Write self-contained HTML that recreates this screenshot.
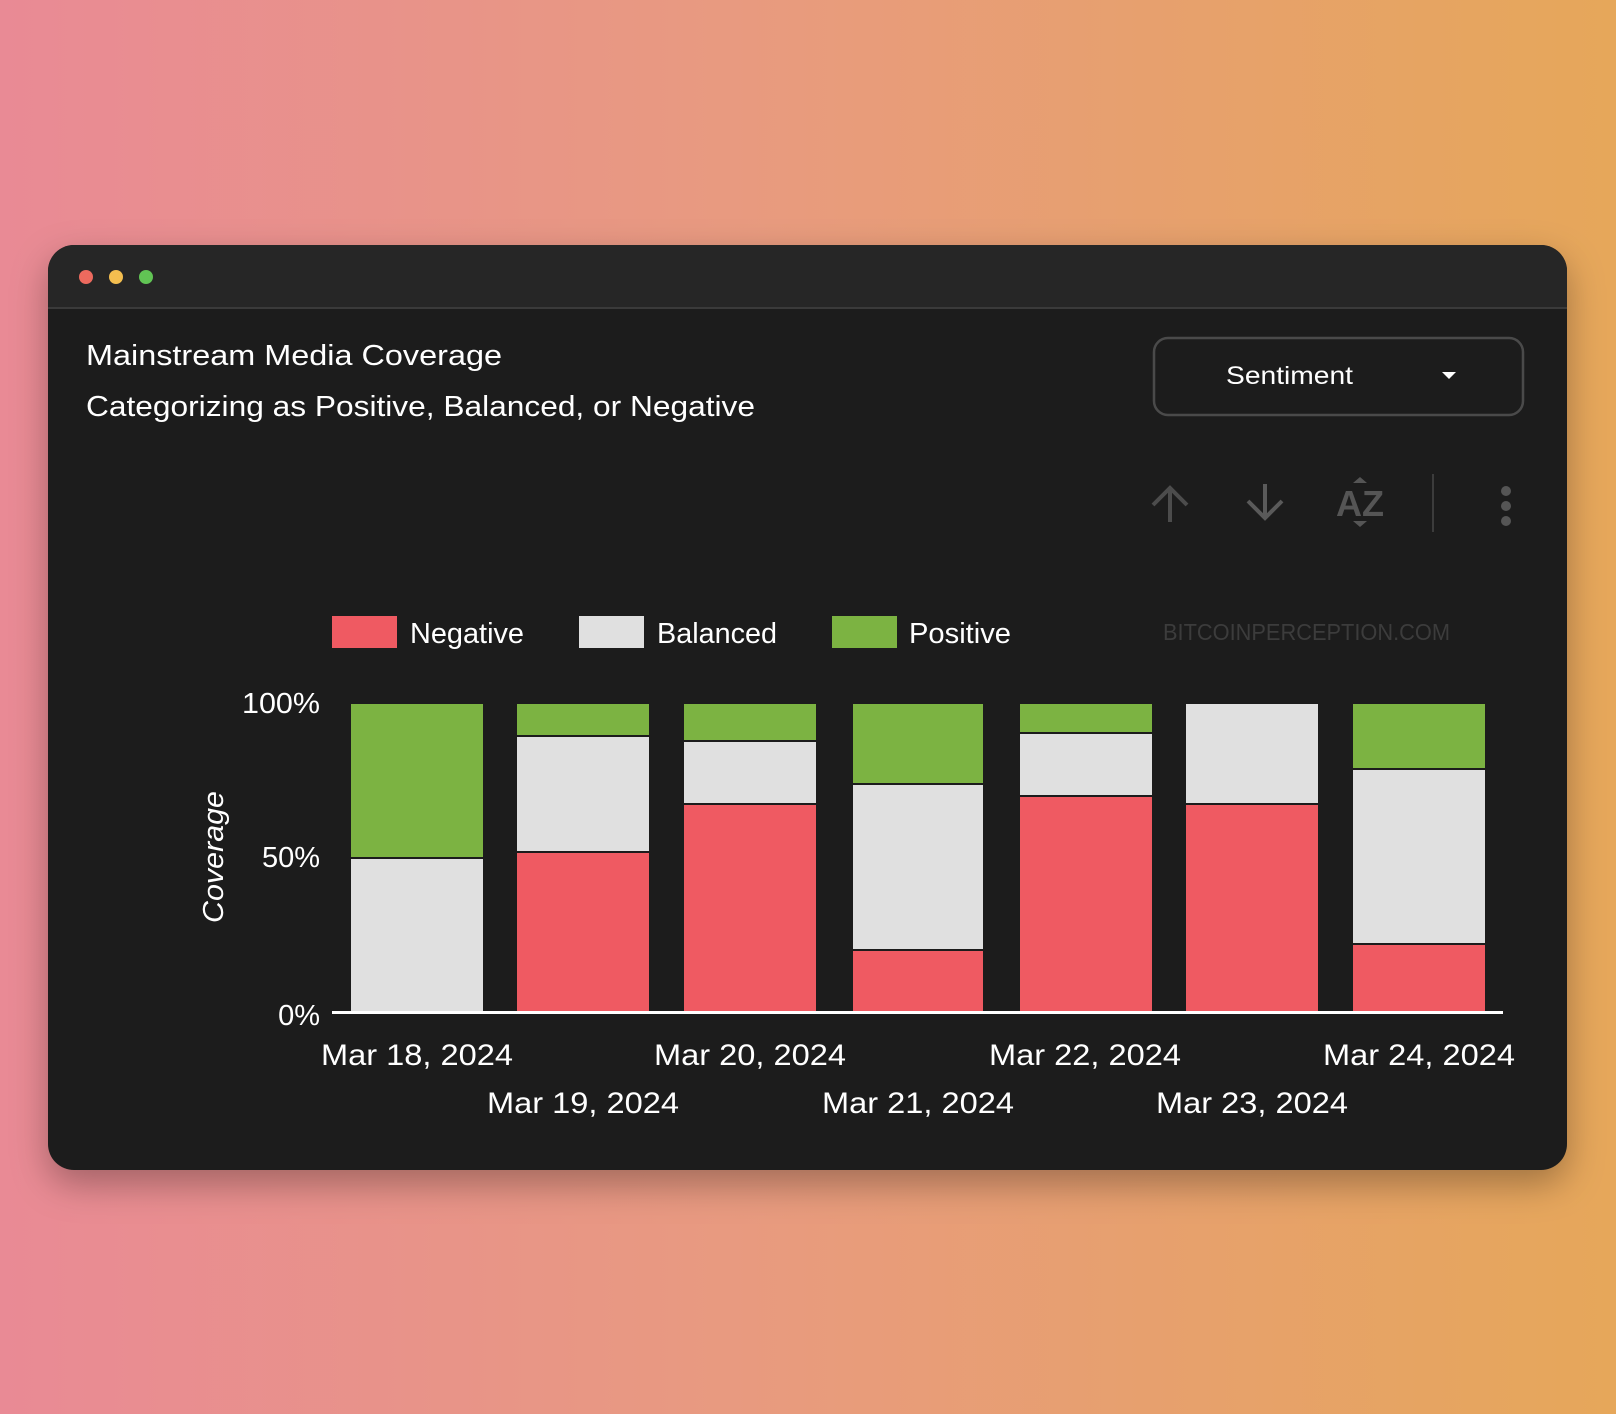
<!DOCTYPE html>
<html><head><meta charset="utf-8"><style>
html,body{margin:0;padding:0;width:1616px;height:1414px;overflow:hidden;background:linear-gradient(90deg,#e98a95 0%,#e89a80 45%,#e6a75a 100%);}
svg{position:absolute;left:0;top:0}
text{font-family:"Liberation Sans",sans-serif;}
</style></head><body>
<svg width="1616" height="1414" viewBox="0 0 1616 1414">
<defs><filter id="sh" x="-10%" y="-10%" width="120%" height="130%"><feDropShadow dx="0" dy="14" stdDeviation="18" flood-color="#000" flood-opacity="0.3"/></filter></defs>
<rect x="48" y="245" width="1519" height="925" rx="26" fill="#1c1c1c" filter="url(#sh)"/>
<path d="M48 308 V271 A26 26 0 0 1 74 245 H1541 A26 26 0 0 1 1567 271 V308 Z" fill="#262626"/>
<rect x="48" y="307" width="1519" height="2" fill="#3a3a3a"/>
<circle cx="86" cy="277" r="7" fill="#ed6a5e"/>
<circle cx="116" cy="277" r="7" fill="#f4be4f"/>
<circle cx="146" cy="277" r="7" fill="#61c454"/>
<g fill="#fff" font-size="29">
<text x="86" y="365" textLength="416" lengthAdjust="spacingAndGlyphs">Mainstream Media Coverage</text>
<text x="86" y="416" textLength="669" lengthAdjust="spacingAndGlyphs">Categorizing as Positive, Balanced, or Negative</text>
</g>
<rect x="1154" y="338" width="369" height="77" rx="14" fill="#1c1c1c" stroke="#4a4a4a" stroke-width="2.5"/>
<text x="1226" y="384" fill="#fff" font-size="25" textLength="127" lengthAdjust="spacingAndGlyphs">Sentiment</text>
<path d="M1442 372 h14 l-7 7 z" fill="#fff"/>
<g stroke="#4c4c4c" stroke-width="4" fill="none">
<path d="M1170 522 V488 M1153 505 L1170 488 L1187 505"/>
<path d="M1265 484 V518 M1248 501 L1265 518 L1282 501" stroke="#5a5a5a"/>
<path d="M1433 474 V532" stroke-width="2" stroke="#3c3c3c"/>
</g>
<text x="1336" y="516" fill="#555" font-size="36" font-weight="bold">AZ</text>
<path d="M1353 483 l7-6 l7 6z M1353 521 l7 6 l7-6z" fill="#555"/>
<g fill="#555"><circle cx="1506" cy="491" r="5"/><circle cx="1506" cy="506" r="5"/><circle cx="1506" cy="521" r="5"/></g>
<rect x="332" y="616" width="65" height="32" fill="#ef5a62"/>
<rect x="579" y="616" width="65" height="32" fill="#e0e0e0"/>
<rect x="832" y="616" width="65" height="32" fill="#7cb342"/>
<g fill="#fff" font-size="29">
<text x="410" y="643" textLength="114" lengthAdjust="spacingAndGlyphs">Negative</text>
<text x="657" y="643" textLength="120" lengthAdjust="spacingAndGlyphs">Balanced</text>
<text x="909" y="643" textLength="102" lengthAdjust="spacingAndGlyphs">Positive</text>
</g>
<text x="1163" y="640" fill="#3c3c3c" font-size="23" textLength="287" lengthAdjust="spacingAndGlyphs">BITCOINPERCEPTION.COM</text>
<g stroke="#1c1c1c" stroke-width="2">
<!-- bar1 -->
<rect x="350" y="703" width="134" height="155" fill="#7cb342"/>
<rect x="350" y="858" width="134" height="154" fill="#e0e0e0"/>
<!-- bar2 -->
<rect x="516" y="703" width="134" height="33" fill="#7cb342"/>
<rect x="516" y="736" width="134" height="116" fill="#e0e0e0"/>
<rect x="516" y="852" width="134" height="160" fill="#ef5a62"/>
<!-- bar3 -->
<rect x="683" y="703" width="134" height="38" fill="#7cb342"/>
<rect x="683" y="741" width="134" height="63" fill="#e0e0e0"/>
<rect x="683" y="804" width="134" height="208" fill="#ef5a62"/>
<!-- bar4 -->
<rect x="852" y="703" width="132" height="81" fill="#7cb342"/>
<rect x="852" y="784" width="132" height="166" fill="#e0e0e0"/>
<rect x="852" y="950" width="132" height="62" fill="#ef5a62"/>
<!-- bar5 -->
<rect x="1019" y="703" width="134" height="30" fill="#7cb342"/>
<rect x="1019" y="733" width="134" height="63" fill="#e0e0e0"/>
<rect x="1019" y="796" width="134" height="216" fill="#ef5a62"/>
<!-- bar6 -->
<rect x="1185" y="703" width="134" height="101" fill="#e0e0e0"/>
<rect x="1185" y="804" width="134" height="208" fill="#ef5a62"/>
<!-- bar7 -->
<rect x="1352" y="703" width="134" height="66" fill="#7cb342"/>
<rect x="1352" y="769" width="134" height="175" fill="#e0e0e0"/>
<rect x="1352" y="944" width="134" height="68" fill="#ef5a62"/>
</g>
<rect x="332" y="1011" width="171" height="0" fill="#fff"/>
<rect x="332" y="1011" width="1171" height="3" fill="#fff"/>
<g fill="#fff" font-size="29" text-anchor="end">
<text x="320" y="713" textLength="78" lengthAdjust="spacingAndGlyphs">100%</text>
<text x="320" y="867">50%</text>
<text x="320" y="1025">0%</text>
</g>
<text transform="translate(223,857) rotate(-90)" fill="#fff" font-size="29" font-style="italic" text-anchor="middle" textLength="132" lengthAdjust="spacingAndGlyphs">Coverage</text>
<g fill="#fff" font-size="30" text-anchor="middle">
<text x="417" y="1065" textLength="192" lengthAdjust="spacingAndGlyphs">Mar 18, 2024</text>
<text x="750" y="1065" textLength="192" lengthAdjust="spacingAndGlyphs">Mar 20, 2024</text>
<text x="1085" y="1065" textLength="192" lengthAdjust="spacingAndGlyphs">Mar 22, 2024</text>
<text x="1419" y="1065" textLength="192" lengthAdjust="spacingAndGlyphs">Mar 24, 2024</text>
<text x="583" y="1113" textLength="192" lengthAdjust="spacingAndGlyphs">Mar 19, 2024</text>
<text x="918" y="1113" textLength="192" lengthAdjust="spacingAndGlyphs">Mar 21, 2024</text>
<text x="1252" y="1113" textLength="192" lengthAdjust="spacingAndGlyphs">Mar 23, 2024</text>
</g>
</svg>
</body></html>
